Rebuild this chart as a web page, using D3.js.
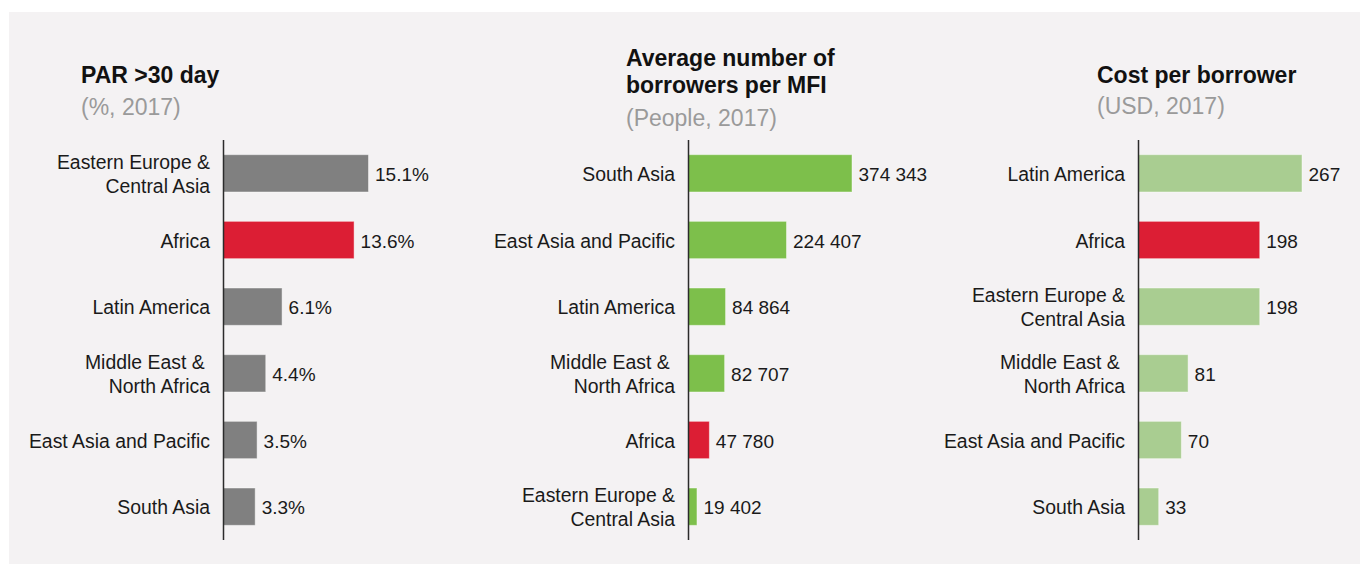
<!DOCTYPE html>
<html>
<head>
<meta charset="utf-8">
<script src="https://cdn.jsdelivr.net/npm/d3@7"></script>
<style>
  html, body { margin: 0; padding: 0; background: #ffffff; }
  svg { display: block; font-family: "Liberation Sans", Arial, Helvetica, sans-serif; }
  .cat { white-space: pre; }
</style>
</head>
<body>
<svg id="chart" width="1360" height="564"></svg>
<script>
// ---- Data ----
const parCategories = ["Eastern Europe &\nCentral Asia", "Africa", "Latin America", "Middle East & \nNorth Africa", "East Asia and Pacific", "South Asia"];
const parValues = [15.1, 13.6, 6.1, 4.4, 3.5, 3.3];

const borrowerCategories = ["South Asia", "East Asia and Pacific", "Latin America", "Middle East & \nNorth Africa", "Africa", "Eastern Europe &\nCentral Asia"];
const borrowerValues = [374343, 224407, 84864, 82707, 47780, 19402];

const costCategories = ["Latin America", "Africa", "Eastern Europe &\nCentral Asia", "Middle East & \nNorth Africa", "East Asia and Pacific", "South Asia"];
const costValues = [267, 198, 198, 81, 70, 33];

const highlightCategory = "Africa";

const spaceLocale = d3.formatLocale({ decimal: ".", thousands: " ", grouping: [3], currency: ["", ""] });
const fmtPct = v => d3.format(".1f")(v) + "%";
const fmtPeople = spaceLocale.format(",d");
const fmtUsd = d3.format("d");

const panels = [
  { title: ["PAR >30 day"], subtitle: "(%, 2017)", titleX: 81, titleY: [83], subY: 115,
    axisX: 223.5, barMax: 145, categories: parCategories, values: parValues,
    color: "#808080", fmt: fmtPct },
  { title: ["Average number of", "borrowers per MFI"], subtitle: "(People, 2017)", titleX: 626, titleY: [66, 93], subY: 126,
    axisX: 688.5, barMax: 163.5, categories: borrowerCategories, values: borrowerValues,
    color: "#7dbf4b", fmt: fmtPeople },
  { title: ["Cost per borrower"], subtitle: "(USD, 2017)", titleX: 1097, titleY: [83], subY: 113.5,
    axisX: 1138.5, barMax: 163.5, categories: costCategories, values: costValues,
    color: "#a9cd91", fmt: fmtUsd }
];

const svg = d3.select("#chart");

// panel background
svg.append("rect")
  .attr("x", 9).attr("y", 12)
  .attr("width", 1360 - 9).attr("height", 564 - 12)
  .attr("fill", "#f4f2f3");

const plotTop = 140, plotBottom = 540;

panels.forEach(p => {
  const g = svg.append("g");

  // title and unit line
  p.title.forEach((t, i) => {
    g.append("text")
      .attr("x", p.titleX).attr("y", p.titleY[i])
      .attr("font-size", 23).attr("font-weight", "bold").attr("fill", "#111")
      .text(t);
  });
  g.append("text")
    .attr("x", p.titleX).attr("y", p.subY)
    .attr("font-size", 23).attr("fill", "#9a9a9a")
    .text(p.subtitle);

  const y = d3.scaleBand()
    .domain(p.categories)
    .range([plotTop, plotBottom])
    .paddingInner(0.44)
    .paddingOuter(0.22);

  const x = d3.scaleLinear()
    .domain([0, d3.max(p.values)])
    .range([p.axisX, p.axisX + p.barMax]);

  const rows = p.categories.map((c, i) => ({ cat: c, value: p.values[i] }));

  // bars
  g.selectAll("rect.bar")
    .data(rows)
    .join("rect")
    .attr("class", "bar")
    .attr("x", x(0))
    .attr("y", d => y(d.cat))
    .attr("width", d => x(d.value) - x(0))
    .attr("height", y.bandwidth())
    .attr("fill", d => d.cat === highlightCategory ? "#dc1e34" : p.color)
    .attr("stroke", "#ffffff")
    .attr("stroke-opacity", 0.45)
    .attr("stroke-width", 1);

  // vertical axis line
  const axis = d3.axisLeft(y).tickSize(0).tickSizeOuter(0).tickFormat("");
  const ag = g.append("g")
    .attr("transform", `translate(${p.axisX},0)`)
    .call(axis);
  ag.select(".domain")
    .attr("stroke", "#2b2b2b")
    .attr("stroke-width", 1.5)
    .attr("d", `M0,${plotTop}V${plotBottom}`);

  // category labels (right-aligned, possibly two lines)
  const cats = g.selectAll("text.cat")
    .data(rows)
    .join("text")
    .attr("class", "cat")
    .attr("text-anchor", "end")
    .attr("font-size", 19.4)
    .attr("fill", "#1a1a1a");
  cats.each(function(d) {
    const lines = d.cat.split("\n");
    const cy = y(d.cat) + y.bandwidth() / 2;
    d3.select(this).selectAll("tspan")
      .data(lines)
      .join("tspan")
      .attr("x", p.axisX - 13.5)
      .attr("y", (l, i) => cy + 7.5 + (i - (lines.length - 1) / 2) * 24.4)
      .text(l => l);
  });

  // value labels
  g.selectAll("text.val")
    .data(rows)
    .join("text")
    .attr("class", "val")
    .attr("x", d => x(d.value) + 6.5)
    .attr("y", d => y(d.cat) + y.bandwidth() / 2 + 7.5)
    .attr("font-size", 19)
    .attr("fill", "#1a1a1a")
    .text(d => p.fmt(d.value));
});
</script>
</body>
</html>
